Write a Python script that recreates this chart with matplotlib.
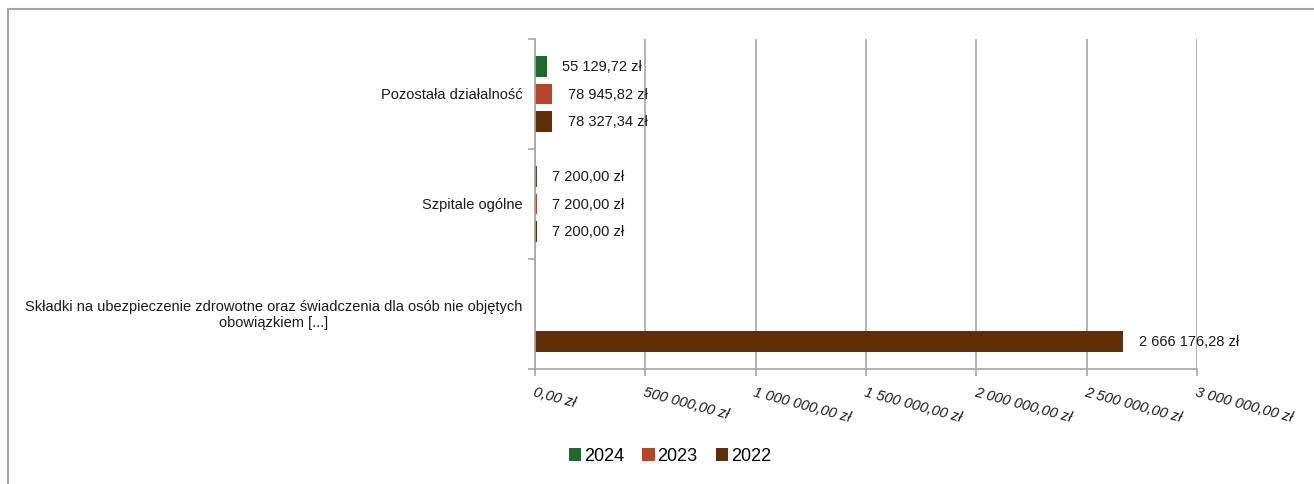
import numpy as np
import matplotlib.pyplot as plt
from matplotlib.patches import Rectangle

plt.rcParams['font.family'] = ['Liberation Sans', 'DejaVu Sans']

# --- DATA ---
categories = ['Składki na ubezpieczenie zdrowotne oraz świadczenia dla osób nie objętych\nobowiązkiem [...]',
              'Szpitale ogólne',
              'Pozostała działalność']
years = ['2024', '2023', '2022']
v2024 = [np.nan, 7200.00, 55129.72]
v2023 = [np.nan, 7200.00, 78945.82]
v2022 = [2666176.28, 7200.00, 78327.34]
xticks = [0, 500000, 1000000, 1500000, 2000000, 2500000, 3000000]

colors = ['#1f6a2c', '#b5452b', '#612d06']
offsets = [0.25, 0.0, -0.25]
FS = 10.5


def fmt_pln(v):
    s = f"{v:,.2f}"
    s = s.replace(',', ' ').replace('.', ',')
    return s + ' zł'


fig = plt.figure(figsize=(13.14, 4.85), dpi=100)
fig.patches.append(Rectangle((8 / 1314, -0.1), 1.2, (1 - 10 / 485) + 0.1,
                             transform=fig.transFigure, fill=False,
                             edgecolor='#a6a6a6', linewidth=1.5))
ax = fig.add_axes([535 / 1314, 1 - 370 / 485, 662 / 1314, 330 / 485])

y = np.arange(len(categories))
for vals, col, off, yr in zip([v2024, v2023, v2022], colors, offsets, years):
    ax.barh(y + off, vals, height=0.19, color=col, label=yr)
    for yi, v in zip(y, vals):
        if not np.isnan(v):
            ax.annotate(fmt_pln(v), (v, yi + off), xytext=(11, 0),
                        textcoords='offset points', va='center', ha='left',
                        fontsize=FS, color='#1a1a1a')

ax.set_xlim(0, 3000000)
ax.set_ylim(-0.5, 2.5)
ax.set_xticks(xticks)
ax.set_xticklabels([])
for t in xticks:
    ax.annotate(fmt_pln(t), (t, 0), xycoords=('data', 'axes fraction'),
                xytext=(0, -11), textcoords='offset points', ha='left', va='top',
                rotation=-15, rotation_mode='anchor', fontsize=FS,
                style='italic', color='#1a1a1a')
ax.grid(axis='x', color='#a6a6a6', linewidth=1.2)
ax.set_axisbelow(True)

ax.set_yticks([-0.5, 0.5, 1.5, 2.5])
ax.set_yticklabels([])
ax.tick_params(axis='both', length=5, color='#a6a6a6', width=1.2)

for s in ['top', 'right']:
    ax.spines[s].set_visible(False)
for s in ['left', 'bottom']:
    ax.spines[s].set_color('#a6a6a6')
    ax.spines[s].set_linewidth(1.2)

# category labels
for yi, cat in zip(y, categories):
    ax.annotate(cat, (0, yi), xycoords=('axes fraction', 'data'), xytext=(-9, 0),
                textcoords='offset points', ha='right', va='center',
                multialignment='center', fontsize=FS, color='#1a1a1a',
                annotation_clip=False)

leg = fig.legend(loc='center', bbox_to_anchor=(670 / 1314, 1 - 457 / 485), ncol=3,
                 frameon=False, fontsize=13, handlelength=0.7, handleheight=0.7,
                 handletextpad=0.15, columnspacing=1.0)

fig.savefig('out.png', dpi=100)
